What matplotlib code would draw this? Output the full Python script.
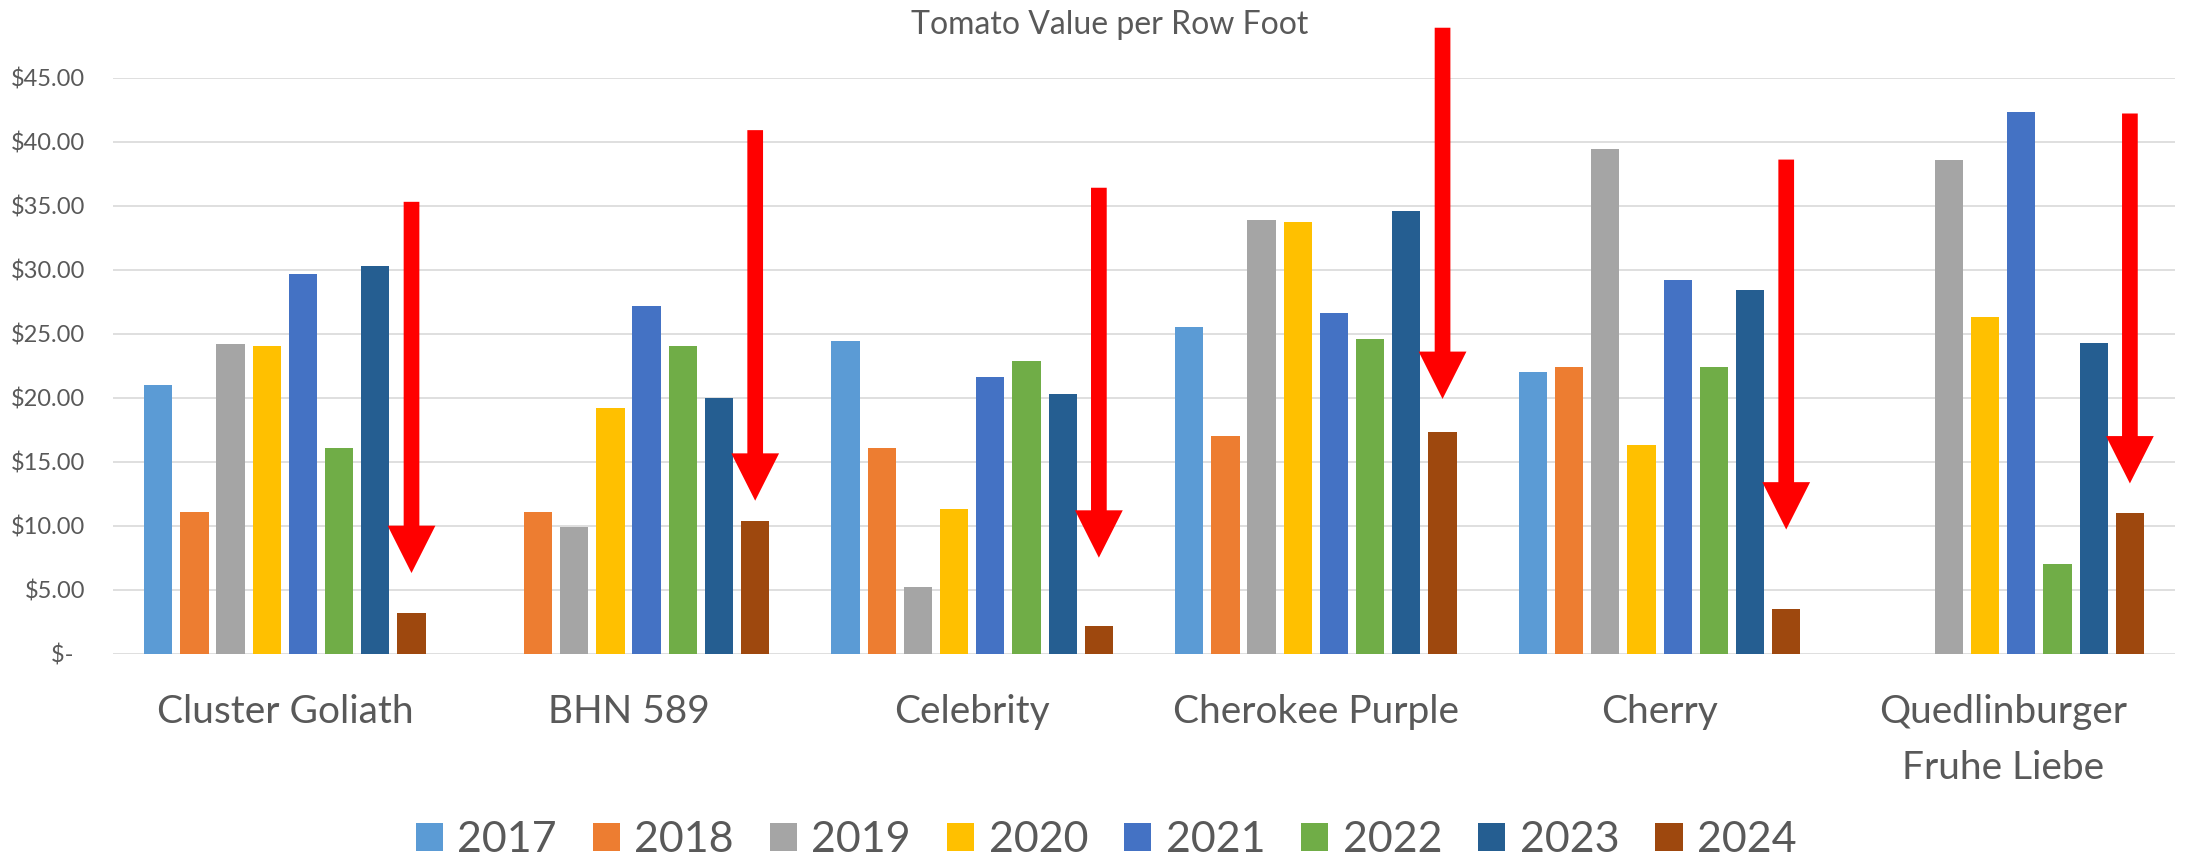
import matplotlib
matplotlib.use("Agg")
import matplotlib.pyplot as plt
from matplotlib.patches import Patch
import numpy as np

# chart values
varieties = ["Cluster Goliath", "BHN 589", "Celebrity", "Cherokee Purple",
             "Cherry", "Quedlinburger\nFruhe Liebe"]
years = ["2017", "2018", "2019", "2020", "2021", "2022", "2023", "2024"]

v2017 = [21.0, 0.0, 24.4, 25.5, 22.0, 0.0]
v2018 = [11.1, 11.1, 16.1, 17.0, 22.4, 0.0]
v2019 = [24.2, 9.9, 5.2, 33.9, 39.4, 38.6]
v2020 = [24.0, 19.2, 11.3, 33.7, 16.3, 26.3]
v2021 = [29.7, 27.2, 21.6, 26.6, 29.2, 42.3]
v2022 = [16.1, 24.0, 22.9, 24.6, 22.4, 7.0]
v2023 = [30.3, 20.0, 20.3, 34.6, 28.4, 24.3]
v2024 = [3.2, 10.4, 2.2, 17.3, 3.5, 11.0]

# red annotation arrows (start value, tip value)
arrow_top = [35.3, 40.9, 36.4, 48.9, 38.6, 42.2]
arrow_tip = [6.3, 11.95, 7.5, 19.9, 9.7, 13.3]

series = [v2017, v2018, v2019, v2020, v2021, v2022, v2023, v2024]
colors = ["#5B9BD5", "#ED7D31", "#A5A5A5", "#FFC000",
          "#4472C4", "#70AD47", "#255E91", "#9E480E"]

TEXT = "#595959"
GRID = "#D9D9D9"
plt.rcParams["font.family"] = ["Lato", "DejaVu Sans"]

fig = plt.figure(figsize=(21.86, 8.6), dpi=100)
ax = fig.add_axes([0.0517, 0.2399, 0.9433, 0.6698])

x = np.arange(len(varieties))
step = 0.1053
bw = 0.0823
for j, (vals, c) in enumerate(zip(series, colors)):
    ax.bar(x + (j - 3.5) * step, vals, width=bw, color=c, linewidth=0, zorder=2)

# arrows sit over the 2024 bar of each group
for i in range(len(varieties)):
    xc = x[i] + 3.5 * step
    ax.arrow(xc, arrow_top[i], 0, arrow_tip[i] - arrow_top[i],
             width=0.0457, head_width=0.139, head_length=3.7,
             length_includes_head=True, color="#FF0000", linewidth=0,
             clip_on=False, zorder=3)

ax.set_xlim(-0.5, len(varieties) - 0.5)
ax.set_ylim(0, 45)
yt = np.arange(0, 50, 5)
ax.set_yticks(yt)
ax.set_yticklabels(["$-  " if v == 0 else f"${v:.2f}" for v in yt],
                   color=TEXT, fontsize=17)
ax.set_xticks(x)
ax.set_xticklabels(varieties, color=TEXT, fontsize=28, linespacing=1.68)
ax.tick_params(axis="both", length=0)
ax.tick_params(axis="y", pad=20)
ax.tick_params(axis="x", pad=29)
ax.grid(axis="y", color=GRID, linewidth=1.2, zorder=0)
ax.set_axisbelow(True)
for s in ax.spines.values():
    s.set_visible(False)

fig.text(0.5075, 0.971, "Tomato Value per Row Foot", ha="center", va="center",
         color=TEXT, fontsize=23)

handles = [Patch(facecolor=c, edgecolor="none") for c in colors]
leg = fig.legend(handles, years, loc="center", bbox_to_anchor=(0.506, 0.0235),
                 ncol=8, frameon=False, fontsize=31, handlelength=0.63,
                 handleheight=0.63, handletextpad=0.33, columnspacing=0.84,
                 borderpad=0, borderaxespad=0)
for t in leg.get_texts():
    t.set_color(TEXT)

fig.savefig("out.png", dpi=100)
